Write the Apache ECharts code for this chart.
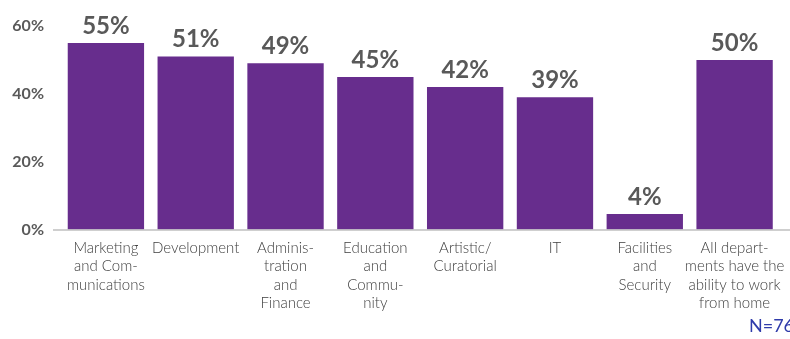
<!DOCTYPE html>
<html>
<head>
<meta charset="utf-8">
<script src="https://cdn.jsdelivr.net/npm/echarts@6/dist/echarts.min.js"></script>
<style>
html,body{margin:0;padding:0;background:#fff;}
#chart{width:790px;height:339px;}
</style>
</head>
<body>
<div id="chart"></div>
<script>
var categories = [
  'Marketing\nand Com-\nmunications',
  'Development',
  'Adminis-\ntration\nand\nFinance',
  'Education\nand\nCommu-\nnity',
  'Artistic/\nCuratorial',
  'IT',
  'Facilities\nand\nSecurity',
  'All depart-\nments have the\nability to work\nfrom home'
];
var values = [55, 51, 49, 45, 42, 39, 4.6, 50];
var valueLabels = ['55%', '51%', '49%', '45%', '42%', '39%', '4%', '50%'];
var yTicks = [0, 20, 40, 60];
var note = 'N=76';

var chart = echarts.init(document.getElementById('chart'));
var option = {
  animation: false,
  grid: { left: 61, right: 10.5, top: 26, bottom: 109.5, containLabel: false },
  xAxis: {
    type: 'category',
    data: categories,
    axisLine: { show: false },
    axisTick: { show: false },
    axisLabel: {
      interval: 0,
      margin: 9,
      color: '#404040',
      fontFamily: 'Lato',
      fontWeight: 300,
      fontSize: 15,
      lineHeight: 18.5,
      align: 'center'
    }
  },
  yAxis: {
    type: 'value',
    min: yTicks[0],
    max: yTicks[yTicks.length - 1],
    interval: yTicks[1] - yTicks[0],
    splitLine: { show: false },
    axisLine: { show: false },
    axisTick: { show: false },
    axisLabel: {
      margin: 17,
      color: '#595959',
      fontFamily: 'Lato',
      fontWeight: 'bold',
      fontSize: 16,
      padding: [0, 0, 6, 0],
      formatter: function (v) { return v + '%'; }
    }
  },
  series: [{
    type: 'bar',
    data: values,
    barCategoryGap: '15%',
    itemStyle: { color: '#672D8D' },
    label: {
      show: true,
      position: 'top',
      distance: 5,
      color: '#595959',
      fontFamily: 'Lato',
      fontWeight: 'bold',
      fontSize: 24,
      formatter: function (p) { return valueLabels[p.dataIndex]; }
    }
  }]
};
chart.setOption(option);

var base = chart.convertToPixel({ gridIndex: 0 }, [0, 0]);
chart.setOption({
  graphic: [
    {
      type: 'line',
      shape: { x1: 53, y1: base[1] + 0.5, x2: 790, y2: base[1] + 0.5 },
      style: { stroke: '#BFBFBF', lineWidth: 1.5 },
      z: 10
    },
    {
      type: 'text',
      left: 749,
      top: 317,
      style: {
        text: note,
        fill: '#2F3BAA',
        font: '18px Lato'
      }
    }
  ]
});
</script>
</body>
</html>
